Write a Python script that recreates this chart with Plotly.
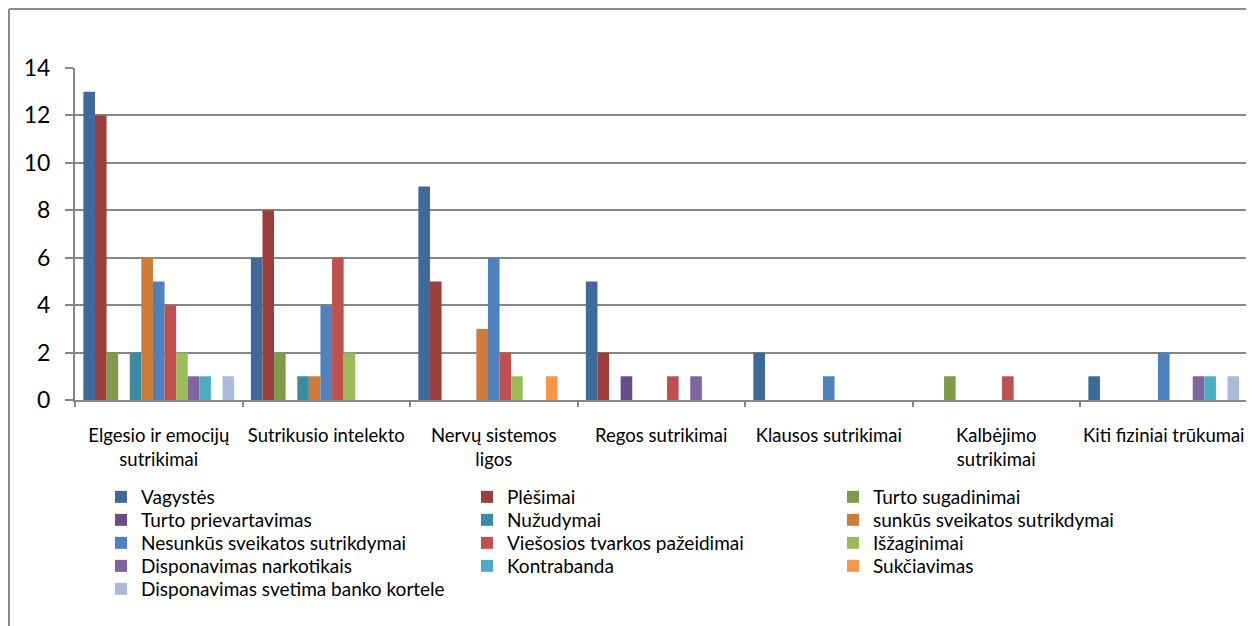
import plotly.graph_objects as go

categories = [
    "Elgesio ir emocijų<br>sutrikimai",
    "Sutrikusio intelekto",
    "Nervų sistemos<br>ligos",
    "Regos sutrikimai",
    "Klausos sutrikimai",
    "Kalbėjimo<br>sutrikimai",
    "Kiti fiziniai trūkumai",
]

series_names = [
    "Vagystės", "Plėšimai", "Turto sugadinimai",
    "Turto prievartavimas", "Nužudymai", "sunkūs sveikatos sutrikdymai",
    "Nesunkūs sveikatos sutrikdymai", "Viešosios tvarkos pažeidimai", "Išžaginimai",
    "Disponavimas narkotikais", "Kontrabanda", "Sukčiavimas",
    "Disponavimas svetima banko kortele",
]

vagystes = [13, 6, 9, 5, 2, 0, 1]
plesimai = [12, 8, 5, 2, 0, 0, 0]
turto_sugadinimai = [2, 2, 0, 0, 0, 1, 0]
turto_prievartavimas = [0, 0, 0, 1, 0, 0, 0]
nuzudymai = [2, 1, 0, 0, 0, 0, 0]
sunkus = [6, 1, 3, 0, 0, 0, 0]
nesunkus = [5, 4, 6, 0, 1, 0, 2]
viesosios = [4, 6, 2, 1, 0, 1, 0]
izaginimai = [2, 2, 1, 0, 0, 0, 0]
narkotikai = [1, 0, 0, 1, 0, 0, 1]
kontrabanda = [1, 0, 0, 0, 0, 0, 1]
sukciavimas = [0, 0, 1, 0, 0, 0, 0]
banko_kortele = [1, 0, 0, 0, 0, 0, 1]

series_values = [
    vagystes, plesimai, turto_sugadinimai, turto_prievartavimas, nuzudymai, sunkus,
    nesunkus, viesosios, izaginimai, narkotikai, kontrabanda, sukciavimas, banko_kortele,
]

colors = [
    "#3E6A9B", "#9C3E3C", "#7F9A48", "#674F86", "#3A8CA3", "#CE7B37",
    "#4F81BD", "#C0504D", "#9BBB59", "#8064A2", "#4BACC6", "#F79646", "#AABADA",
]

y_ticks = [0, 2, 4, 6, 8, 10, 12, 14]

W, H = 1254, 626
L, R, T, B = 67, 0, 60, 234
PW, PH = W - L - R, H - T - B
CAT_W = 167.5

def px_x(px):
    return (px - L) / PW

def px_y(py):
    return (H - py - B) / PH

font = "Lato, Calibri, sans-serif"

legend_names = ["legend", "legend2", "legend3", "legend4", "legend5"]

fig = go.Figure()
for i, (name, vals, col) in enumerate(zip(series_names, series_values, colors)):
    fig.add_trace(go.Bar(
        x=categories, y=vals, name=name,
        marker=dict(color=col, line=dict(width=0)),
        legend=legend_names[i // 3],
    ))

legend_common = dict(
    orientation="h", xanchor="left", yanchor="top",
    xref="paper", yref="paper",
    entrywidth=321, entrywidthmode="pixels",
    font=dict(size=19, family=font), traceorder="normal",
    itemclick=False, bgcolor="rgba(0,0,0,0)",
)
LEG_X = 93
LEG_TOP = 470
ROW_STEP = 23
legends = {}
for r, ln in enumerate(legend_names):
    legends[ln] = dict(legend_common, x=px_x(LEG_X), y=px_y(LEG_TOP + r * ROW_STEP))

fig.update_layout(
    width=W, height=H,
    margin=dict(l=L, r=R, t=T, b=B, autoexpand=False),
    paper_bgcolor="white", plot_bgcolor="white",
    barmode="group", bargap=0.1, bargroupgap=0,
    font=dict(family=font, color="black", size=19),
    xaxis=dict(
        type="category", range=[-0.5, -0.5 + PW / CAT_W],
        showline=True, linecolor="#868686", linewidth=2,
        ticks="outside", tickson="boundaries", ticklen=5, tickcolor="#868686", tickwidth=2,
        showgrid=False, tickfont=dict(size=18.5, family=font),
        tickangle=0, ticklabelstandoff=18,
    ),
    yaxis=dict(
        range=[0, 14], tickvals=y_ticks,
        showline=True, linecolor="#868686", linewidth=2,
        ticks="outside", ticklen=8, tickcolor="#868686", tickwidth=2,
        showgrid=True, gridcolor="#868686", gridwidth=1.5,
        zeroline=False, tickfont=dict(size=23, family=font),
        ticklabelstandoff=10,
    ),
    shapes=[
        dict(type="line", xref="paper", yref="paper",
             x0=px_x(1), x1=px_x(1), y0=px_y(1), y1=px_y(700),
             line=dict(color="#8C8C8C", width=2)),
        dict(type="line", xref="paper", yref="paper",
             x0=px_x(1), x1=px_x(1300), y0=px_y(1), y1=px_y(1),
             line=dict(color="#8C8C8C", width=2)),
    ],
    **legends,
)

fig.write_html("out.html")
